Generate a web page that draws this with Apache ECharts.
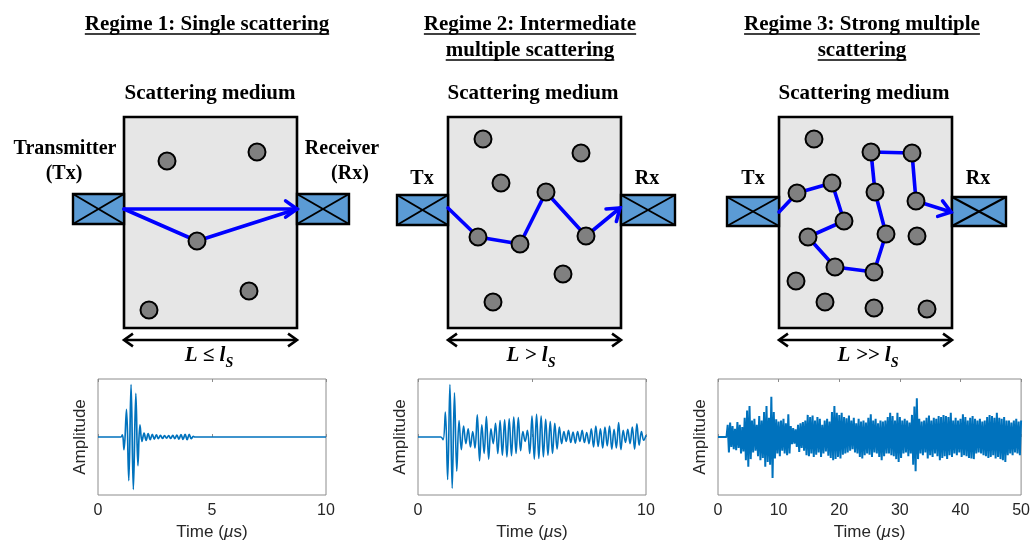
<!DOCTYPE html>
<html><head><meta charset="utf-8">
<script src="https://cdn.jsdelivr.net/npm/echarts@6/dist/echarts.min.js"></script>
<style>html,body{margin:0;padding:0;background:#fff}#c{width:1033px;height:542px}</style>
</head><body><div id="c"></div>
<script>
// ---------------- DATA ----------------
const regimeTitles = [["Regime 1: Single scattering"], ["Regime 2: Intermediate", "multiple scattering"], ["Regime 3: Strong multiple", "scattering"]];
const mediumLabel = "Scattering medium";
const txLabels = [["Transmitter", "(Tx)"], ["Tx"], ["Tx"]];
const rxLabels = [["Receiver", "(Rx)"], ["Rx"], ["Rx"]];
const lengthRelations = [["L ≤ l", "S"], ["L > l", "S"], ["L >> l", "S"]];
const timeAxisName = ["Time (", "µ", "s)"];
const ampAxisName = "Amplitude";

// diagram (drawing units of the schematic plane)
const mediumBoxes = [[124, 117, 297, 328], [448, 117, 621, 328], [779, 117, 952, 328]];
const transducers = [[73, 194, 124, 224], [297, 194, 349, 224], [397, 195, 448, 225], [621, 195, 675, 225], [727, 197, 779, 226], [952, 197, 1006, 226]];
const scatterers1 = [[167, 161], [257, 152], [197, 241], [249, 291], [149, 310]];
const scatterers2 = [[483, 139], [581, 153], [501, 183], [546, 192], [478, 237], [520, 244], [586, 236], [563, 274], [493, 302]];
const scatterers3 = [[814, 139], [871, 152], [912, 153], [797, 193], [832, 183], [875, 192], [916, 201], [844, 221], [808, 237], [886, 234], [917, 236], [835, 267], [874, 272], [796, 281], [825, 302], [874, 308], [927, 309]];
const path1Direct = [[124, 209], [297, 209]];
const path1Scatter = [[124, 209], [197, 241], [297, 209]];
const path2 = [[448, 208], [478, 237], [520, 244], [546, 192], [586, 236], [620, 208]];
const path3 = [[779, 212], [797, 193], [832, 183], [844, 221], [808, 237], [835, 267], [874, 272], [886, 234], [875, 192], [871, 152], [912, 153], [916, 201], [951, 212]];
const arrowHeads = [[124, 209, 297, 209], [586, 236, 620, 208], [916, 201, 951, 212]];
const lengthArrows = [[124, 297, 340], [448, 621, 340], [779, 952, 340]];

// waveforms
const r1Time = [0, 1.0, 1.07, 1.14, 1.25, 1.35, 1.45, 1.55, 1.66, 1.75, 1.84, 1.93, 2.02, 2.11, 2.20, 2.29, 2.38, 2.47, 2.56, 2.65, 2.74, 2.83, 2.92, 3.01, 3.10, 3.19, 3.28, 3.37, 3.46, 3.55, 3.64, 3.73, 3.82, 3.91, 4.00, 4.09, 4.18, 4.25, 10];
const r1Amp = [0, 0, 0.04, -0.23, 0.50, -0.79, 0.95, -0.95, 0.79, -0.52, 0.22, -0.08, 0.07, -0.06, 0.06, -0.05, 0.05, -0.04, 0.04, -0.03, 0.03, -0.025, 0.025, -0.02, 0.025, -0.025, 0.03, -0.03, 0.035, -0.04, 0.045, -0.045, 0.05, -0.05, 0.05, -0.03, 0.01, 0, 0];

const r2Lead = [[0, 0]];
const r2Start = 1.0, r2Step = 0.1;
const r2Amp = [0, -0.05, 0.45, -0.77, 0.95, -0.93, 0.80, -0.62, 0.30, -0.23,
  0.20, -0.12, 0.15, -0.18, 0.10, -0.20, 0.40, -0.43, 0.22, -0.30,
  0.37, -0.40, 0.15, -0.12, 0.25, -0.30, 0.30, -0.33, 0.31, -0.36,
  0.33, -0.34, 0.36, -0.30, 0.35, -0.25, 0.10, -0.08, 0.12, -0.30,
  0.38, -0.40, 0.41, -0.39, 0.38, -0.36, 0.32, -0.33, 0.28, -0.30,
  0.25, -0.22, 0.18, -0.12, 0.10, -0.08, 0.12, -0.10, 0.09, -0.11,
  0.10, -0.08, 0.12, -0.10, 0.08, -0.12, 0.15, -0.18, 0.20, -0.17,
  0.15, -0.20, 0.18, -0.16, 0.20, -0.22, 0.14, -0.20, 0.26, -0.23,
  0.12, -0.10, 0.14, -0.12, 0.18, -0.22, 0.24, -0.15, 0.10, -0.06,
  0.03];

const r3Lead = [[0, 0]];
const r3Start = 1.4, r3Step = 0.2;
const r3Amp = [0,
  0.22, -0.28, 0.26, -0.18, 0.2,
  -0.22, 0.15, -0.24, 0.27, -0.2,
  0.22, -0.3, 0.18, -0.26, 0.35,
  -0.42, 0.48, -0.54, 0.56, -0.4,
  0.3, -0.28, 0.33, -0.25, 0.22,
  -0.35, 0.38, -0.42, 0.3, -0.38,
  0.45, -0.54, 0.56, -0.45, 0.35,
  -0.5, 0.73, -0.74, 0.45, -0.39,
  0.32, -0.3, 0.28, -0.35, 0.3,
  -0.25, 0.33, -0.3, 0.25, -0.33,
  0.41, -0.3, 0.2, -0.13, 0.16,
  -0.12, 0.14, -0.18, 0.22, -0.27,
  0.25, -0.2, 0.27, -0.25, 0.3,
  -0.33, 0.4, -0.35, 0.36, -0.3,
  0.39, -0.36, 0.3, -0.32, 0.36,
  -0.28, 0.33, -0.36, 0.22, -0.3,
  0.3, -0.26, 0.33, -0.34, 0.28,
  -0.38, 0.45, -0.42, 0.56, -0.4,
  0.44, -0.36, 0.4, -0.39, 0.44,
  -0.32, 0.36, -0.3, 0.34, -0.28,
  0.39, -0.25, 0.3, -0.22, 0.35,
  -0.28, 0.25, -0.3, 0.33, -0.36,
  0.28, -0.39, 0.3, -0.33, 0.26,
  -0.3, 0.35, -0.32, 0.41, -0.36,
  0.3, -0.28, 0.33, -0.3, 0.25,
  -0.36, 0.3, -0.42, 0.28, -0.35,
  0.3, -0.3, 0.36, -0.3, 0.44,
  -0.33, 0.38, -0.35, 0.3, -0.4,
  0.44, -0.45, 0.36, -0.38, 0.3,
  -0.3, 0.33, -0.28, 0.3, -0.35,
  0.26, -0.3, 0.4, -0.5, 0.55,
  -0.62, 0.7, -0.4, 0.33, -0.3,
  0.28, -0.33, 0.3, -0.28, 0.35,
  -0.39, 0.39, -0.33, 0.3, -0.36,
  0.35, -0.3, 0.33, -0.35, 0.38,
  -0.42, 0.36, -0.38, 0.4, -0.35,
  0.38, -0.4, 0.36, -0.33, 0.44,
  -0.36, 0.3, -0.3, 0.35, -0.33,
  0.3, -0.28, 0.33, -0.36, 0.41,
  -0.33, 0.36, -0.35, 0.3, -0.38,
  0.35, -0.39, 0.38, -0.4, 0.33,
  -0.3, 0.3, -0.28, 0.33, -0.3,
  0.28, -0.33, 0.3, -0.35, 0.36,
  -0.38, 0.4, -0.36, 0.38, -0.33,
  0.35, -0.39, 0.44, -0.36, 0.35,
  -0.4, 0.33, -0.42, 0.36, -0.45,
  0.3, -0.33, 0.3, -0.3, 0.26,
  -0.33, 0.3, -0.28, 0.33, -0.3,
  0.28, -0.33, 0.3];

const xTicks = [{max: 10, interval: 5}, {max: 10, interval: 5}, {max: 50, interval: 10}];

// ---------------- LAYOUT / STYLE ----------------
const SERIF = '"Liberation Serif","Times New Roman",serif';
const SANS = '"Liberation Sans",Arial,Helvetica,sans-serif';
const FRAME = '#8c8c8c';
const TXT = '#262626';
const WAVE = '#0072bd';
const BLUE = '#0000ff';

const titleX = [207, 530, 862];
const mediumX = [210, 533, 864];
const txPos = [[65, 149], [422, 179], [753, 179]];
const rxPos = [[342, 149], [647, 179], [978, 179]];
const relX = [209, 531, 868];
const plotGrids = [
  {left: 98, top: 379, width: 228, height: 117},
  {left: 418, top: 379, width: 228, height: 117},
  {left: 718, top: 379, width: 305, height: 116}
];
const waveWidth = [1.7, 1.6, 2.0];

const mctx = document.createElement('canvas').getContext('2d');
function tw(text, font) { mctx.font = font; return mctx.measureText(text).width; }

function buildUniform(lead, start, step, amps) {
  const out = lead.slice();
  for (let i = 0; i < amps.length; i++) out.push([+(start + i * step).toFixed(3), amps[i]]);
  return out;
}
const r1Data = r1Time.map((t, i) => [t, r1Amp[i]]);
const r2Data = buildUniform(r2Lead, r2Start, r2Step, r2Amp);
const r3Data = buildUniform(r3Lead, r3Start, r3Step, r3Amp);
const waves = [r1Data, r2Data, r3Data];

// ---------------- GRAPHIC TEXT ----------------
const graphics = [];
function addText(text, x, y, font) {
  graphics.push({
    type: 'text', z: 100, silent: true,
    style: {text: text, x: x, y: y, font: font, fill: '#000', align: 'center', verticalAlign: 'middle', textAlign: 'center', textVerticalAlign: 'middle'}
  });
}
const TITLE_FONT = 'bold 21px ' + SERIF;
regimeTitles.forEach((lines, p) => {
  lines.forEach((ln, i) => {
    const y = 25 + 26 * i;
    addText(ln, titleX[p], y, TITLE_FONT);
    const w = tw(ln, TITLE_FONT);
    graphics.push({type: 'line', z: 100, silent: true, shape: {x1: titleX[p] - w / 2, y1: y + 9, x2: titleX[p] + w / 2, y2: y + 9}, style: {stroke: '#000', lineWidth: 1.3}});
  });
  addText(mediumLabel, mediumX[p], 94, TITLE_FONT);
  txLabels[p].forEach((ln, i) => addText(ln, txPos[p][0] + (i ? -1 : 0), txPos[p][1] + 25 * i, 'bold 20px ' + SERIF));
  rxLabels[p].forEach((ln, i) => addText(ln, rxPos[p][0] + (i ? 8 : 0), rxPos[p][1] + 25 * i, 'bold 20px ' + SERIF));
  const mainFont = 'bold italic 21px ' + SERIF, subFont = 'bold italic 14px ' + SERIF;
  const w1 = tw(lengthRelations[p][0], mainFont), w2 = tw(lengthRelations[p][1], subFont);
  const x0 = relX[p] - (w1 + w2) / 2;
  graphics.push({type: 'text', z: 100, silent: true, style: {text: lengthRelations[p][0], x: x0, y: 356, font: mainFont, fill: '#000', align: 'left', verticalAlign: 'middle', textAlign: 'left', textVerticalAlign: 'middle'}});
  graphics.push({type: 'text', z: 100, silent: true, style: {text: lengthRelations[p][1], x: x0 + w1, y: 363, font: subFont, fill: '#000', align: 'left', verticalAlign: 'middle', textAlign: 'left', textVerticalAlign: 'middle'}});
});

// ---------------- OPTION ----------------
const grids = [{left: 0, top: 0, width: 1033, height: 380, show: false}];
const xAxes = [{gridIndex: 0, type: 'value', min: 0, max: 1033, show: false}];
const yAxes = [{gridIndex: 0, type: 'value', min: 0, max: 380, inverse: true, show: false}];
const series = [];

plotGrids.forEach((g, k) => {
  grids.push(Object.assign({show: true, borderColor: FRAME, borderWidth: 1, backgroundColor: 'transparent'}, g));
  const common = {gridIndex: k + 1, type: 'value', min: 0, max: xTicks[k].max, interval: xTicks[k].interval,
    splitLine: {show: false}, axisLine: {show: false},
    axisTick: {show: true, inside: true, length: 3, lineStyle: {color: FRAME, width: 1}}};
  xAxes.push(Object.assign({}, common, {
    position: 'bottom',
    axisLabel: {show: true, fontSize: 16, fontFamily: SANS, color: TXT, margin: 8},
    name: '{a|' + timeAxisName[0] + '}{b|' + timeAxisName[1] + '}{a|' + timeAxisName[2] + '}',
    nameLocation: 'middle', nameGap: 29,
    nameTextStyle: {rich: {a: {fontSize: 17, fontFamily: SANS, color: TXT}, b: {fontSize: 17, fontFamily: SANS, fontStyle: 'italic', color: TXT}}}
  }));
  xAxes.push(Object.assign({}, common, {position: 'top', axisLabel: {show: false}}));
  yAxes.push({gridIndex: k + 1, type: 'value', min: -1.05, max: 1.05,
    axisLine: {show: false}, axisTick: {show: false}, axisLabel: {show: false}, splitLine: {show: false},
    name: ampAxisName, nameLocation: 'middle', nameRotate: 90, nameGap: 9,
    nameTextStyle: {fontSize: 17, fontFamily: SANS, color: TXT}});
  series.push({type: 'line', xAxisIndex: 1 + 2 * k, yAxisIndex: k + 1, data: waves[k], symbol: 'none', showSymbol: false,
    smooth: k < 2 ? 0.4 : false, lineStyle: {color: WAVE, width: waveWidth[k]}, silent: true, animation: false});
});

// media boxes
series.push({type: 'custom', xAxisIndex: 0, yAxisIndex: 0, z: 1, silent: true, data: mediumBoxes,
  renderItem(params, api) {
    const a = api.coord([api.value(0), api.value(1)]), b = api.coord([api.value(2), api.value(3)]);
    return {type: 'rect', shape: {x: a[0], y: a[1], width: b[0] - a[0], height: b[1] - a[1]}, style: {fill: '#e6e6e6', stroke: '#000', lineWidth: 2.6}};
  }});
// transducers
series.push({type: 'custom', xAxisIndex: 0, yAxisIndex: 0, z: 2, silent: true, data: transducers,
  renderItem(params, api) {
    const a = api.coord([api.value(0), api.value(1)]), b = api.coord([api.value(2), api.value(3)]);
    const st = {stroke: '#000', lineWidth: 2};
    return {type: 'group', children: [
      {type: 'rect', shape: {x: a[0], y: a[1], width: b[0] - a[0], height: b[1] - a[1]}, style: {fill: '#5b9bd5', stroke: '#000', lineWidth: 2.4}},
      {type: 'line', shape: {x1: a[0], y1: a[1], x2: b[0], y2: b[1]}, style: st},
      {type: 'line', shape: {x1: a[0], y1: b[1], x2: b[0], y2: a[1]}, style: st}
    ]};
  }});
// length arrows
series.push({type: 'custom', xAxisIndex: 0, yAxisIndex: 0, z: 2, silent: true, data: lengthArrows,
  renderItem(params, api) {
    const a = api.coord([api.value(0), api.value(2)]), b = api.coord([api.value(1), api.value(2)]);
    const L = 11, s = 0.62;
    const st = {stroke: '#000', lineWidth: 2.6, fill: null, lineJoin: 'miter'};
    return {type: 'group', children: [
      {type: 'line', shape: {x1: a[0] + 1, y1: a[1], x2: b[0] - 1, y2: b[1]}, style: st},
      {type: 'polyline', shape: {points: [[a[0] + L * Math.cos(s), a[1] - L * Math.sin(s)], a, [a[0] + L * Math.cos(s), a[1] + L * Math.sin(s)]]}, style: st},
      {type: 'polyline', shape: {points: [[b[0] - L * Math.cos(s), b[1] - L * Math.sin(s)], b, [b[0] - L * Math.cos(s), b[1] + L * Math.sin(s)]]}, style: st}
    ]};
  }});
// propagation paths
[path1Direct, path1Scatter, path2, path3].forEach(p => {
  series.push({type: 'line', xAxisIndex: 0, yAxisIndex: 0, z: 3, silent: true, data: p, symbol: 'none', showSymbol: false,
    lineStyle: {color: BLUE, width: 3.6, join: 'round', cap: 'round'}, animation: false});
});
// arrow heads
series.push({type: 'custom', xAxisIndex: 0, yAxisIndex: 0, z: 3, silent: true, data: arrowHeads,
  renderItem(params, api) {
    const a = api.coord([api.value(0), api.value(1)]), b = api.coord([api.value(2), api.value(3)]);
    const ang = Math.atan2(b[1] - a[1], b[0] - a[0]);
    const L = 14, s = 0.62;
    const p1 = [b[0] - L * Math.cos(ang - s), b[1] - L * Math.sin(ang - s)];
    const p2 = [b[0] - L * Math.cos(ang + s), b[1] - L * Math.sin(ang + s)];
    return {type: 'polyline', shape: {points: [p1, b, p2]}, style: {stroke: BLUE, lineWidth: 3.6, fill: null, lineJoin: 'miter', lineCap: 'round'}};
  }});
// scatterers
[scatterers1, scatterers2, scatterers3].forEach(sc => {
  series.push({type: 'scatter', xAxisIndex: 0, yAxisIndex: 0, z: 5, silent: true, data: sc, symbol: 'circle', symbolSize: 17,
    itemStyle: {color: '#808080', borderColor: '#000', borderWidth: 2, opacity: 1}, animation: false});
});

const chart = echarts.init(document.getElementById('c'), null, {renderer: 'canvas'});
chart.setOption({
  animation: false,
  backgroundColor: '#fff',
  grid: grids, xAxis: xAxes, yAxis: yAxes, series: series,
  graphic: {elements: graphics}
});
</script></body></html>
